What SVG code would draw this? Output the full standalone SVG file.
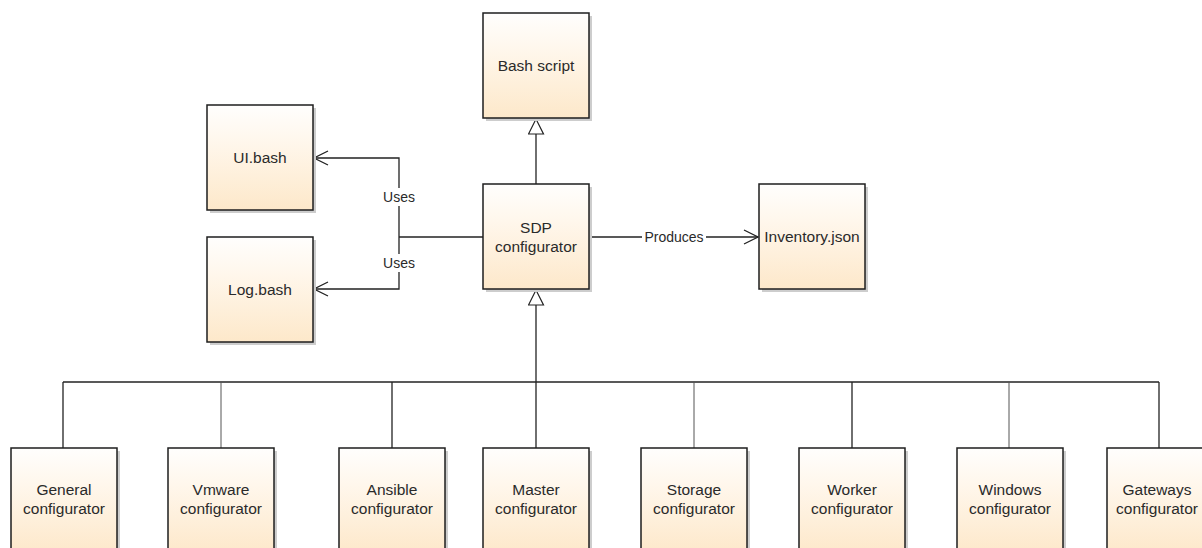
<svg xmlns="http://www.w3.org/2000/svg" width="1202" height="548" viewBox="0 0 1202 548">
  <defs>
    <linearGradient id="boxFill" x1="0" y1="0" x2="0" y2="1">
      <stop offset="0" stop-color="#fffefd"/>
      <stop offset="0.35" stop-color="#fff7ec"/>
      <stop offset="1" stop-color="#fde8ca"/>
    </linearGradient>
    <marker id="open" markerWidth="16" markerHeight="16" refX="15" refY="8" orient="auto" markerUnits="userSpaceOnUse">
      <path d="M1,1 L15,8 L1,15" fill="none" stroke="#222" stroke-width="1.3"/>
    </marker>
    <marker id="hollow" markerWidth="18" markerHeight="18" refX="16" refY="8" orient="auto" markerUnits="userSpaceOnUse">
      <path d="M1,0.5 L16,8 L1,15.5 Z" fill="#fff" stroke="#222" stroke-width="1.2"/>
    </marker>
  </defs>
  <style>
    .shadow { fill: #cdcdcd; }
    .box { fill: url(#boxFill); stroke: #1e1e1e; stroke-width: 1.5; }
    .name { font-family: "Liberation Sans", Arial, sans-serif; font-size: 15.5px; fill: #2a2a2a; text-anchor: middle; }
    .lbl { font-family: "Liberation Sans", Arial, sans-serif; font-size: 14px; fill: #2a2a2a; text-anchor: middle; }
    .edge { fill: none; stroke: #222; stroke-width: 1.3; }
    .thin { fill: none; stroke: #555; stroke-width: 1; }
  </style>
  <rect width="1202" height="548" fill="#fff"/>

  <!-- connectors -->
  <g id="connectors">
    <!-- SDP configurator extends Bash script -->
    <path class="edge" d="M536,184 L536,119" marker-end="url(#hollow)"/>
    <!-- uses links -->
    <path class="edge" d="M483,237 L399,237"/>
    <path class="edge" d="M399,237 L399,158 L314,158" marker-end="url(#open)"/>
    <path class="edge" d="M399,237 L399,289 L314,289" marker-end="url(#open)"/>
    <!-- produces -->
    <path class="edge" d="M589,237 L758,237" marker-end="url(#open)"/>
    <!-- generalization tree -->
    <path class="edge" d="M536,448 L536,290" marker-end="url(#hollow)"/>
    <path class="edge" d="M63,382 L1159,382"/>
    <path class="edge" d="M63,382 L63,448"/>
    <path class="thin" d="M221,382 L221,448"/>
    <path class="edge" d="M392,382 L392,448"/>
    <path class="thin" d="M694,382 L694,448"/>
    <path class="edge" d="M852,382 L852,448"/>
    <path class="thin" d="M1009,382 L1009,448"/>
    <path class="edge" d="M1159,382 L1159,448"/>
    <!-- labels over the lines -->
    <rect x="382" y="188" width="34" height="18" fill="#fff"/>
    <text class="lbl" x="399" y="202">Uses</text>
    <rect x="382" y="254" width="34" height="18" fill="#fff"/>
    <text class="lbl" x="399" y="268">Uses</text>
    <rect x="642" y="228" width="64" height="18" fill="#fff"/>
    <text class="lbl" x="674" y="242">Produces</text>
  </g>

  <g id="bash-script">
    <rect class="shadow" x="486" y="16" width="106" height="105"/>
    <rect class="box" x="483" y="13" width="106" height="105"/>
    <text class="name" x="536" y="71">Bash script</text>
  </g>
  <g id="ui-bash">
    <rect class="shadow" x="210" y="108" width="106" height="105"/>
    <rect class="box" x="207" y="105" width="106" height="105"/>
    <text class="name" x="260" y="163">UI.bash</text>
  </g>
  <g id="log-bash">
    <rect class="shadow" x="210" y="240" width="106" height="105"/>
    <rect class="box" x="207" y="237" width="106" height="105"/>
    <text class="name" x="260" y="295">Log.bash</text>
  </g>
  <g id="sdp-configurator">
    <rect class="shadow" x="486" y="187" width="106" height="105"/>
    <rect class="box" x="483" y="184" width="106" height="105"/>
    <text class="name" x="536" y="233">SDP</text>
    <text class="name" x="536" y="252">configurator</text>
  </g>
  <g id="inventory-json">
    <rect class="shadow" x="762" y="187" width="106" height="105"/>
    <rect class="box" x="759" y="184" width="106" height="105"/>
    <text class="name" x="812" y="242">Inventory.json</text>
  </g>

  <g id="general-configurator">
    <rect class="shadow" x="14" y="451" width="106" height="105"/>
    <rect class="box" x="11" y="448" width="106" height="105"/>
    <text class="name" x="64" y="495">General</text>
    <text class="name" x="64" y="514">configurator</text>
  </g>
  <g id="vmware-configurator">
    <rect class="shadow" x="171" y="451" width="106" height="105"/>
    <rect class="box" x="168" y="448" width="106" height="105"/>
    <text class="name" x="221" y="495">Vmware</text>
    <text class="name" x="221" y="514">configurator</text>
  </g>
  <g id="ansible-configurator">
    <rect class="shadow" x="342" y="451" width="106" height="105"/>
    <rect class="box" x="339" y="448" width="106" height="105"/>
    <text class="name" x="392" y="495">Ansible</text>
    <text class="name" x="392" y="514">configurator</text>
  </g>
  <g id="master-configurator">
    <rect class="shadow" x="486" y="451" width="106" height="105"/>
    <rect class="box" x="483" y="448" width="106" height="105"/>
    <text class="name" x="536" y="495">Master</text>
    <text class="name" x="536" y="514">configurator</text>
  </g>
  <g id="storage-configurator">
    <rect class="shadow" x="644" y="451" width="106" height="105"/>
    <rect class="box" x="641" y="448" width="106" height="105"/>
    <text class="name" x="694" y="495">Storage</text>
    <text class="name" x="694" y="514">configurator</text>
  </g>
  <g id="worker-configurator">
    <rect class="shadow" x="802" y="451" width="106" height="105"/>
    <rect class="box" x="799" y="448" width="106" height="105"/>
    <text class="name" x="852" y="495">Worker</text>
    <text class="name" x="852" y="514">configurator</text>
  </g>
  <g id="windows-configurator">
    <rect class="shadow" x="960" y="451" width="106" height="105"/>
    <rect class="box" x="957" y="448" width="106" height="105"/>
    <text class="name" x="1010" y="495">Windows</text>
    <text class="name" x="1010" y="514">configurator</text>
  </g>
  <g id="gateways-configurator">
    <rect class="shadow" x="1110" y="451" width="106" height="105"/>
    <rect class="box" x="1107" y="448" width="106" height="105"/>
    <text class="name" x="1157" y="495">Gateways</text>
    <text class="name" x="1157" y="514">configurator</text>
  </g>
</svg>
